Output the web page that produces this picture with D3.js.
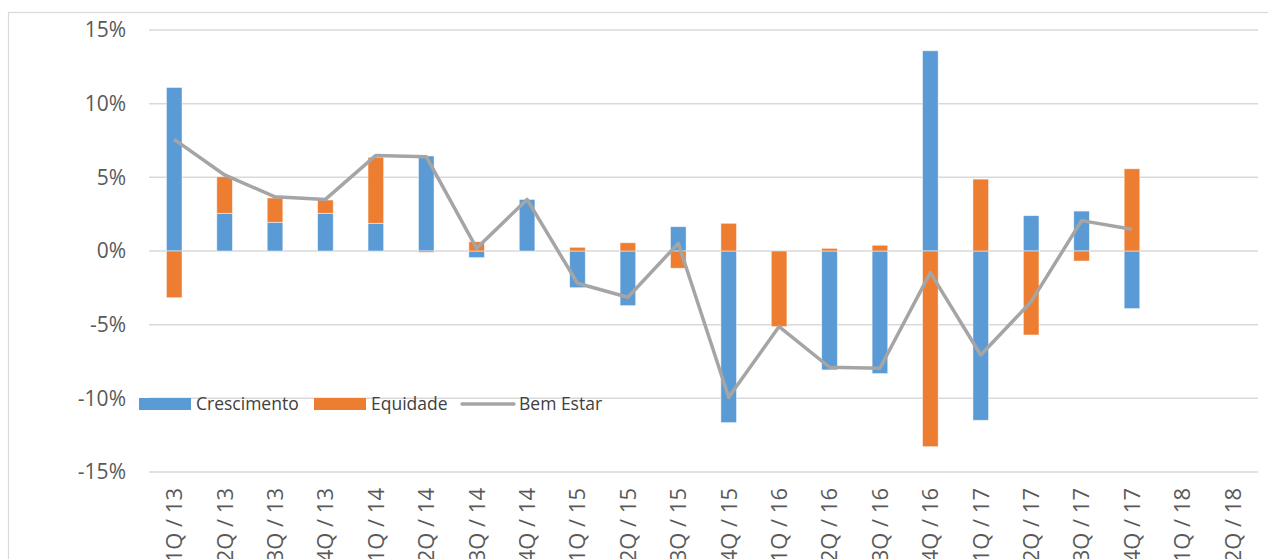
<!DOCTYPE html>
<html>
<head>
<meta charset="utf-8">
<script src="https://cdn.jsdelivr.net/npm/d3@7"></script>
<style>
  html, body { margin: 0; padding: 0; background: #fff; overflow: hidden; }
  svg { display: block; font-family: "Open Sans", sans-serif; }
</style>
</head>
<body>
<div id="chart"></div>
<script>
// trimestres
var quarters = ["1Q / 13","2Q / 13","3Q / 13","4Q / 13","1Q / 14","2Q / 14","3Q / 14","4Q / 14",
  "1Q / 15","2Q / 15","3Q / 15","4Q / 15","1Q / 16","2Q / 16","3Q / 16","4Q / 16",
  "1Q / 17","2Q / 17","3Q / 17","4Q / 17","1Q / 18","2Q / 18"];

// valores em %
var crescimento = [11.1, 2.56, 1.95, 2.56, 1.88, 6.45, -0.45, 3.5, -2.49, -3.71, 1.65, -11.65,
  0, -8.07, -8.32, 13.59, -11.49, 2.4, 2.71, -3.91, null, null];
var equidade = [-3.17, 2.48, 1.65, 0.9, 4.48, -0.09, 0.63, 0, 0.25, 0.56, -1.17, 1.88,
  -5.13, 0.18, 0.39, -13.28, 4.88, -5.7, -0.68, 5.58, null, null];
var bemEstar = [7.58, 5.16, 3.68, 3.5, 6.49, 6.4, 0.18, 3.5, -2.19, -3.14, 0.52, -9.93,
  -5.13, -7.89, -7.96, -1.47, -7.06, -3.44, 2.06, 1.47, null, null];

var yTicks = [15, 10, 5, 0, -5, -10, -15];

var W = 1268, H = 559;
var colors = {Crescimento: "#5B9BD5", Equidade: "#ED7D31", line: "#A5A5A5"};

var svg = d3.select("#chart").append("svg")
    .attr("width", W)
    .attr("height", H);

// moldura do gráfico
svg.append("rect")
    .attr("x", 8.5).attr("y", 12.5)
    .attr("width", W + 20).attr("height", H + 20)
    .attr("fill", "none")
    .attr("stroke", "#D9D9D9")
    .attr("stroke-width", 1.2);

var x = d3.scaleBand()
    .domain(quarters)
    .range([149, 1258])
    .paddingInner(0.69)
    .paddingOuter(0.345);

var y = d3.scaleLinear()
    .domain([-15, 15])
    .range([472, 30]);

// grade
svg.append("g")
    .selectAll("line")
    .data(yTicks)
    .enter().append("line")
    .attr("x1", 149).attr("x2", 1258)
    .attr("y1", function (d) {return y(d);})
    .attr("y2", function (d) {return y(d);})
    .attr("stroke", "#D9D9D9")
    .attr("stroke-width", 1.5);

// eixo y
svg.append("g")
    .selectAll("text")
    .data(yTicks)
    .enter().append("text")
    .attr("x", 126)
    .attr("y", function (d) {return y(d);})
    .attr("dy", "0.35em")
    .attr("text-anchor", "end")
    .style("font-size", "21px")
    .style("fill", "#595959")
    .text(function (d) {return d + "%";});

// eixo x
svg.append("g")
    .selectAll("text")
    .data(quarters)
    .enter().append("text")
    .attr("transform", function (d) {
        return "translate(" + (x(d) + x.bandwidth() / 2) + ",488)rotate(-90)";
    })
    .attr("dy", "0.36em")
    .attr("text-anchor", "end")
    .style("font-size", "22px")
    .style("fill", "#595959")
    .text(function (d) {return d;});

// barras empilhadas
var rows = quarters.map(function (q, i) {
    return {q: q, Crescimento: crescimento[i] || 0, Equidade: equidade[i] || 0};
});
var series = d3.stack()
    .keys(["Crescimento", "Equidade"])
    .offset(d3.stackOffsetDiverging)(rows);

svg.append("g")
    .selectAll("g")
    .data(series)
    .enter().append("g")
    .attr("fill", function (s) {return colors[s.key];})
    .selectAll("rect")
    .data(function (s) {return s.filter(function (d) {return d[1] - d[0] !== 0;});})
    .enter().append("rect")
    .attr("x", function (d) {return x(d.data.q);})
    .attr("width", x.bandwidth())
    .attr("y", function (d) {return y(Math.max(d[0], d[1]));})
    .attr("height", function (d) {return Math.abs(y(d[0]) - y(d[1]));})
    .attr("stroke", "#fff")
    .attr("stroke-opacity", 0.6)
    .attr("stroke-width", 0.8);

// linha Bem Estar
var line = d3.line()
    .defined(function (d) {return d != null;})
    .x(function (d, i) {return x(quarters[i]) + x.bandwidth() / 2;})
    .y(function (d) {return y(d);});

svg.append("path")
    .datum(bemEstar)
    .attr("d", line)
    .attr("fill", "none")
    .attr("stroke", colors.line)
    .attr("stroke-width", 3.5)
    .attr("stroke-linejoin", "round");

// legenda
var legend = [
    {name: "Crescimento", type: "bar", color: colors.Crescimento, x: 139},
    {name: "Equidade", type: "bar", color: colors.Equidade, x: 314},
    {name: "Bem Estar", type: "line", color: colors.line, x: 461}
];
var lg = svg.append("g").selectAll("g")
    .data(legend)
    .enter().append("g")
    .attr("transform", function (d) {return "translate(" + d.x + ",404)";});

lg.filter(function (d) {return d.type === "bar";})
    .append("rect")
    .attr("x", 0).attr("y", -6)
    .attr("width", 52).attr("height", 12)
    .attr("fill", function (d) {return d.color;});

lg.filter(function (d) {return d.type === "line";})
    .append("line")
    .attr("x1", 1).attr("x2", 53)
    .attr("y1", 0).attr("y2", 0)
    .attr("stroke", function (d) {return d.color;})
    .attr("stroke-width", 3.5)
    .attr("stroke-linecap", "round");

lg.append("text")
    .attr("x", function (d) {return d.type === "bar" ? 57 : 58;})
    .attr("dy", "0.35em")
    .style("font-size", "17.5px")
    .style("fill", "#404040")
    .text(function (d) {return d.name;});
</script>
</body>
</html>
